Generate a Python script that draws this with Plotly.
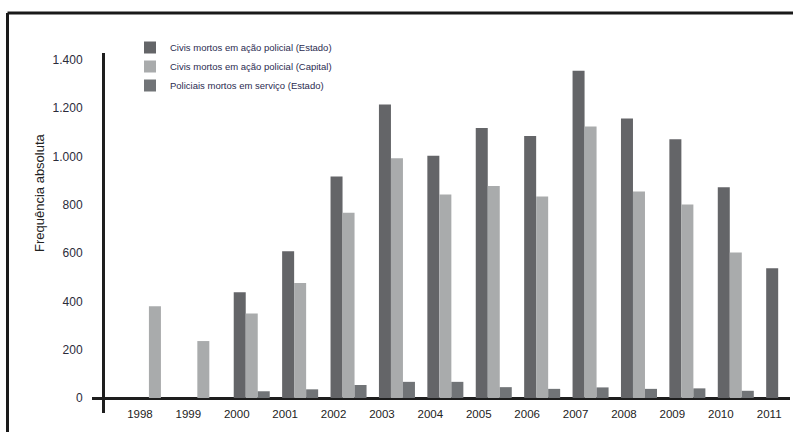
import plotly.graph_objects as go

years = ["1998", "1999", "2000", "2001", "2002", "2003", "2004", "2005",
         "2006", "2007", "2008", "2009", "2010", "2011"]
civis_estado = [None, None, 438, 608, 918, 1216, 1003, 1118, 1085, 1356, 1158, 1072, 873, 537]
civis_capital = [380, 236, 350, 476, 767, 993, 843, 878, 835, 1125, 855, 802, 603, None]
policiais_estado = [None, None, 28, 36, 54, 67, 67, 45, 38, 44, 38, 40, 30, 26]

y_tickvals = [0, 200, 400, 600, 800, 1000, 1200, 1400]
y_ticktext = ["0", "200", "400", "600", "800", "1.000", "1.200", "1.400"]

FONT = "Liberation Sans Narrow, Liberation Sans, Arial Narrow, sans-serif"
W, H = 793, 432
# plot area in page pixels
PL, PR, PT, PB = 92, 790, 53, 413
ML, MR, MT, MB = PL, W - PR, PT, H - PB
PW = W - ML - MR
PH = H - MT - MB

def px_x(px):
    return (px - ML) / PW

def px_y(py):
    return (H - MB - py) / PH

fig = go.Figure()
fig.add_trace(go.Bar(x=years, y=civis_estado, name="Civis mortos em ação policial (Estado)",
                     marker=dict(color="#646568", line=dict(width=0))))
fig.add_trace(go.Bar(x=years, y=civis_capital, name="Civis mortos em ação policial (Capital)",
                     marker=dict(color="#a9abac", line=dict(width=0))))
fig.add_trace(go.Bar(x=years, y=policiais_estado, name="Policiais mortos em serviço (Estado)",
                     marker=dict(color="#717477", line=dict(width=0))))

frame = dict(color="#1a1a1a", width=3)
fig.update_layout(
    width=W, height=H,
    margin=dict(l=ML, r=MR, t=MT, b=MB),
    paper_bgcolor="white", plot_bgcolor="white",
    barmode="group", bargap=0.256, bargroupgap=0,
    font=dict(family=FONT, color="#2b2b3a"),
    showlegend=True,
    legend=dict(x=px_x(130), y=px_y(33), xanchor="left", yanchor="top",
                font=dict(size=9.5, color="#2b2b50", family=FONT),
                bgcolor="rgba(0,0,0,0)", tracegroupgap=0, itemwidth=30),
    xaxis=dict(type="category", range=[-1.30, 13.12], domain=[0, 1],
               anchor="free", position=px_y(405),
               showline=False, showgrid=False, zeroline=False, ticks="",
               tickfont=dict(size=11.5, color="#222", family=FONT),
               ticklabelshift=-15),
    yaxis=dict(range=[-62, 1429], domain=[0, 1],
               anchor="free", position=px_x(103),
               showline=True, linecolor="#1e1e1e", linewidth=3,
               showgrid=False, zeroline=True, zerolinecolor="#1e1e1e", zerolinewidth=3,
               tickvals=y_tickvals, ticktext=y_ticktext, ticks="",
               ticklabelstandoff=17,
               tickfont=dict(size=12, color="#2b2b3a", family=FONT)),
    annotations=[dict(text="Frequência absoluta", x=px_x(40), y=px_y(193),
                      xref="paper", yref="paper", textangle=-90, showarrow=False,
                      xanchor="center", yanchor="middle",
                      font=dict(size=13, color="#222", family=FONT))],
    shapes=[
        dict(type="line", xref="paper", yref="paper",
             x0=px_x(7.5), x1=px_x(7.5), y0=px_y(H + 60), y1=px_y(13),
             line=frame),
        dict(type="line", xref="paper", yref="paper",
             x0=px_x(7.5), x1=px_x(W + 60), y0=px_y(13), y1=px_y(13),
             line=frame),
    ],
)

fig.write_html(
    "out.html",
    config={"displayModeBar": False},
    post_script="document.body.style.margin='0';document.body.style.overflow='hidden';",
)
